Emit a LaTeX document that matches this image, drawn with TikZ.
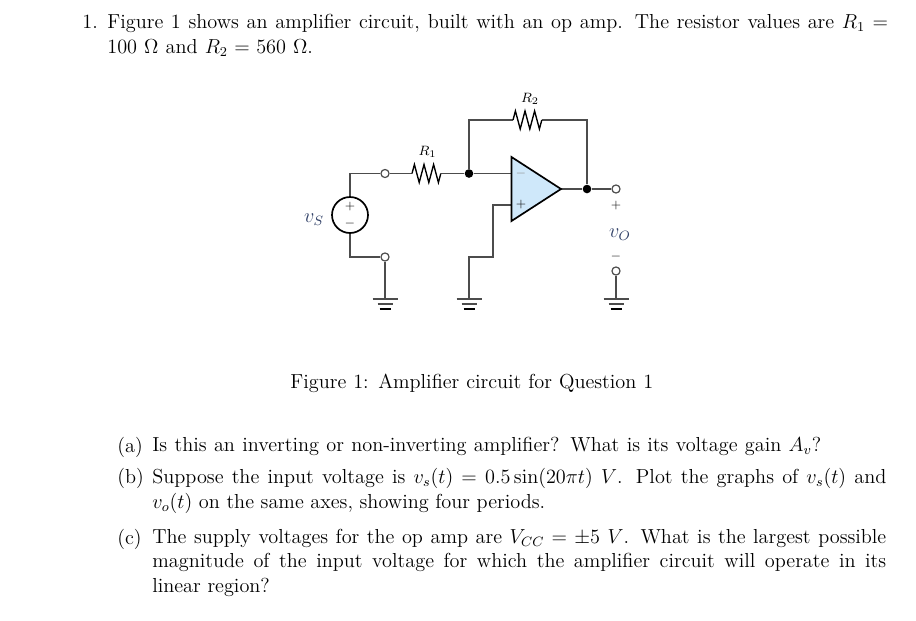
\documentclass[tikz,border=0pt]{standalone}
\usetikzlibrary{calc}

\definecolor{ampfill}{HTML}{CFE8FA}
\definecolor{qtyink}{HTML}{2F3F66}

\tikzset{
    wire/.style={draw=black!70, line width=0.85pt},
    body/.style={font=\fontsize{12}{14.5}\selectfont, inner sep=0pt, anchor=north west, align=justify},
    lead/.style={font=\fontsize{12}{14.5}\selectfont, inner sep=0pt, anchor=north west},
    term/.style={circle, draw=black!70, fill=white, line width=0.7pt, minimum size=4.8pt, inner sep=0pt},
    junc/.style={circle, fill=black, minimum size=5.1pt, inner sep=0pt},
    sign/.style={font=\scriptsize, text=black!90, inner sep=0pt},
    qty/.style={font=\fontsize{12}{14}\selectfont, text=qtyink, inner sep=0pt},
    rlabel/.style={font=\footnotesize, inner sep=0pt},
    pics/resis/.style={code={
        \draw[black, line width=0.8pt, line join=miter] (0,0) -- ++(2.4,-9) -- ++(4.8,18) -- ++(4.8,-18)
            -- ++(4.8,18) -- ++(4.8,-18) -- ++(4.8,18) -- ++(2.4,-9);
    }},
    pics/gnd/.style={code={
        \draw[black!70, line width=0.9pt] (-12.5,0) -- (12.5,0);
        \draw[black!70, line width=0.9pt] (-7.5,5) -- (7.5,5);
        \draw[black, line width=1pt] (-5.5,10) -- (5.5,10);
    }}
}

\begin{document}
\begin{tikzpicture}[x=0.5917pt, y=-0.5917pt]
    \useasboundingbox (0,0) rectangle (916,620);

    % Question text
    \node[lead] (numone) at (82,14.3) {1.};
    \node[body, text width=461.9pt] (intro) at (107,14.3) {Figure 1 shows an amplifier circuit, built with an op amp. The resistor values are $R_1 =$ 100~$\Omega$ and $R_2 = 560~\Omega$.\parfillskip=340.2pt\par};

    % Terminals and junctions
    \node[term] (tin) at (385,173.5) {};
    \node[term] (tlow) at (385,257) {};
    \node[junc] (jin) at (469,173.5) {};
    \node[junc] (jout) at (587,189) {};
    \node[term] (tout) at (616,189) {};
    \node[term] (tret) at (616,271) {};

    % Named points
    \coordinate (gndone) at (385,299);
    \coordinate (gndtwo) at (469,299);
    \coordinate (gndthree) at (616,299);
    \coordinate (rone) at (412,173.5);
    \coordinate (roneb) at (441,173.5);
    \coordinate (rtwo) at (513,120);
    \coordinate (rtwob) at (542,120);
    \coordinate (ampa) at (511.5,157);
    \coordinate (ampb) at (511.5,221);
    \coordinate (ampc) at (561,189);
    \coordinate (ampminus) at (511.5,173.5);
    \coordinate (ampplus) at (511.5,205);
    \coordinate (stepa) at (493,257);
    \coordinate (stepb) at (469,257);

    % Source
    \node[circle, draw=black, line width=1pt, minimum size=21.3pt, inner sep=0pt] (src) at (350,215) {};
    \node[sign] (srcplus) at (350,207) {$+$};
    \node[sign] (srcminus) at (350,224) {$-$};
    \node[qty] (vs) at (314,219.5) {$v_S$};
    \draw[wire] (src.north) |- (tin);
    \draw[wire] (src.south) |- (tlow);

    % Input and feedback wires
    \draw[wire] (tin) -- (rone);
    \draw[wire] (roneb) -- (jin);
    \draw[wire] (jin) -- (ampminus);
    \draw[wire] (jin) |- (rtwo);
    \draw[wire] (rtwob) -| (jout);
    \draw[wire] (ampc) -- (jout);
    \draw[wire] (jout) -- (tout);
    \draw[wire] (ampplus) -| (stepa) -- (stepb) -- (gndtwo);
    \draw[wire] (tlow) -- (gndone);
    \draw[wire] (tret) -- (gndthree);

    % Resistors
    \pic at (rone) {resis};
    \pic at (rtwo) {resis};
    \node[rlabel] (lone) at (427.5,152) {$R_1$};
    \node[rlabel] (ltwo) at (530,99) {$R_2$};

    % Op amp
    \draw[black, line width=1pt, fill=ampfill, line join=miter] (ampa) -- (ampb) -- (ampc) -- cycle;
    \node[sign, text=black!45] (ampm) at (521,174) {$-$};
    \node[sign] (ampp) at (521,205) {$+$};

    % Output
    \node[sign] (outplus) at (616,206) {$+$};
    \node[qty] (vo) at (620,235) {$v_O$};
    \node[sign] (outminus) at (616,257) {$-$};

    % Grounds
    \pic at (gndone) {gnd};
    \pic at (gndtwo) {gnd};
    \pic at (gndthree) {gnd};

    % Caption
    \node[lead] (caption) at (290,374) {\makebox[214.8pt][s]{Figure 1: Amplifier circuit for Question 1}};

    % Parts
    \node[lead] (marka) at (117,436.5) {(a)};
    \node[lead] (parta) at (152,436.5) {\makebox[395.8pt][s]{Is this an inverting or non-inverting amplifier? What is its voltage gain $A_v$?}};
    \node[lead] (markb) at (117,468) {(b)};
    \node[body, text width=434.3pt] (partb) at (152,468) {Suppose the input voltage is $v_s(t) = 0.5\sin(20\pi t)~V$. Plot the graphs of $v_s(t)$ and $v_o(t)$ on the same axes, showing four periods.};
    \node[lead] (markc) at (117,528.5) {(c)};
    \node[body, text width=434.3pt] (partc) at (152,528.5) {The supply voltages for the op amp are $V_{CC} = \pm 5~V$. What is the largest possible magnitude of the input voltage for which the amplifier circuit will operate in its\linebreak linear region?};
\end{tikzpicture}
\end{document}
